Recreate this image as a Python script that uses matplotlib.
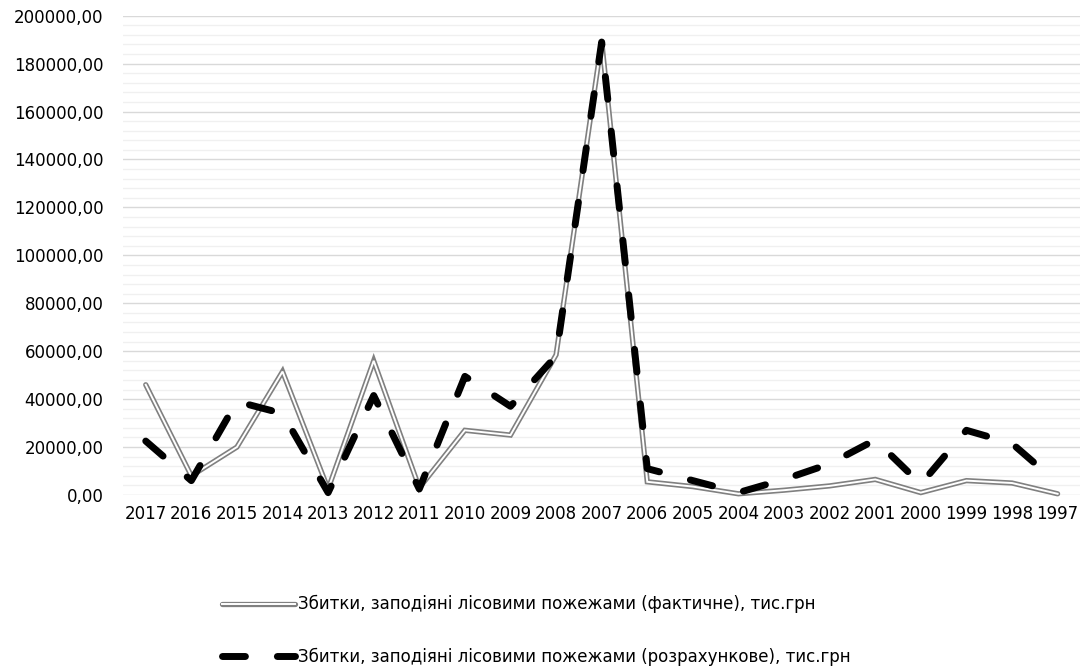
import numpy as np
import matplotlib
matplotlib.use("Agg")
import matplotlib.pyplot as plt
from matplotlib.ticker import MultipleLocator, FuncFormatter

plt.rcParams['font.family'] = ['DejaVu Sans']

# роки (вісь X йде від 2017 до 1997)
years = ['2017', '2016', '2015', '2014', '2013', '2012', '2011', '2010', '2009', '2008', '2007',
         '2006', '2005', '2004', '2003', '2002', '2001', '2000', '1999', '1998', '1997']

# збитки фактичні, тис.грн
actual = [46000, 8000, 20000, 51500, 2500, 56000, 3000, 27000, 25000, 58500, 189500,
          5500, 3500, 500, 2000, 3800, 6500, 1000, 6000, 5000, 500]

# збитки розрахункові, тис.грн
forecast = [22500, 6000, 39000, 34000, 1000, 41500, 2500, 49500, 37000, 58000, 189000,
            11000, 6000, 1000, 6500, 13000, 23000, 4500, 27000, 21500, 5000]

label_fact = 'Збитки, заподіяні лісовими пожежами (фактичне), тис.грн'
label_calc = 'Збитки, заподіяні лісовими пожежами (розрахункове), тис.грн'

fig = plt.figure(figsize=(10.88, 6.70), dpi=100)
ax = fig.add_axes([0.113, 0.2612, 0.88, 0.7154])

x = np.arange(len(years))

# подвійна лінія: широка сіра + тонка біла всередині
l_outer, = ax.plot(x, actual, color='#808080', lw=3.8, solid_joinstyle='miter',
                   solid_capstyle='round', clip_on=False, zorder=3)
l_inner, = ax.plot(x, actual, color='white', lw=1.4, solid_joinstyle='miter',
                   clip_on=False, zorder=4)

l_calc, = ax.plot(x, forecast, color='black', lw=5.0, linestyle=(0, (3.3, 4.6)),
                  dash_capstyle='round', dash_joinstyle='round', clip_on=False, zorder=5)

ax.set_xlim(-0.5, len(years) - 0.5)
ax.set_ylim(0, 200000)
ax.set_xticks(x)
ax.set_xticklabels(years)

ax.yaxis.set_major_locator(MultipleLocator(20000))
ax.yaxis.set_minor_locator(MultipleLocator(4000))
ax.yaxis.set_major_formatter(FuncFormatter(lambda v, p: f'{v:.2f}'.replace('.', ',')))
ax.grid(axis='y', which='major', color='#d9d9d9', lw=1.0, zorder=0)
ax.grid(axis='y', which='minor', color='#f0f0f0', lw=1.0, zorder=0)
ax.set_axisbelow(True)

for s in ax.spines.values():
    s.set_visible(False)
ax.tick_params(axis='both', which='both', length=0, labelsize=12, colors='#000000')
ax.tick_params(axis='y', pad=14)
ax.tick_params(axis='x', pad=7)

fig.legend([(l_outer, l_inner), l_calc], [label_fact, label_calc],
           loc='center left', bbox_to_anchor=(222 / 1088, 0.059),
           frameon=False, fontsize=12, handlelength=4.4, handletextpad=0.15,
           labelspacing=2.05, borderpad=0, borderaxespad=0)

fig.savefig('out.png', dpi=100)
